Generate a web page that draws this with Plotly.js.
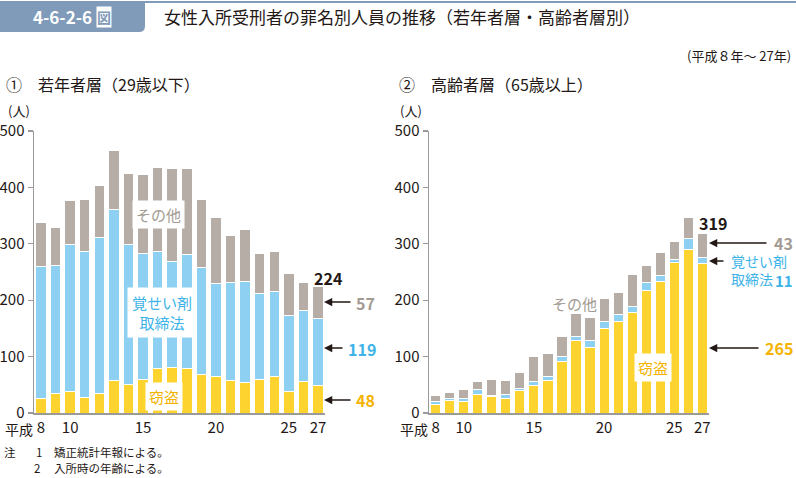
<!DOCTYPE html>
<html><head><meta charset="utf-8">
<script src="https://cdn.plot.ly/plotly-3.0.1.min.js"></script>
<style>html,body{margin:0;padding:0;background:#fff}</style>
</head><body><div id="chart" style="width:796px;height:478px"></div>
<script>
// 平成8年～27年
const years = [8,9,10,11,12,13,14,15,16,17,18,19,20,21,22,23,24,25,26,27];
// ① 若年者層（29歳以下）
const youngTheft = [25,34,39,28,35,58,51,59,79,80,79,69,65,57,54,60,64,38,56,48];
const youngStim  = [234,228,260,258,276,302,247,223,207,188,202,189,165,175,179,152,151,135,126,119];
const youngOther = [78,67,77,93,92,105,127,141,150,165,152,121,116,83,93,70,72,75,49,57];
// ② 高齢者層（65歳以上）
const elderTheft = [15,23,20,32,29,25,40,49,57,92,129,117,149,162,179,218,233,266,290,265];
const elderStim  = [5,2,5,9,2,7,4,6,7,8,6,11,13,13,9,13,10,7,19,11];
const elderOther = [11,12,16,14,29,25,28,45,42,35,41,42,41,39,57,31,41,31,37,43];
const tickVals = [8,10,15,20,25,27];
const tickText = ['8','10','15','20','25','27'];
const seriesNames = ['窃盗','覚せい剤取締法','その他'];

const W = 796, H = 478;
const px = x => x / W;
const py = y => 1 - y / H;
const FONT = '"Noto Sans CJK JP", "Noto Sans", sans-serif';
const C_OTHER = '#b6aea6', C_STIM = '#8dd0f2', C_THEFT = '#fdd330';
const T_OTHER = '#a39b93', T_STIM = '#3db3e8', T_THEFT = '#f3b300';
const DARK = '#231815';
const BOX = '#7f9bb9';

function bar(y, name, color, xa, ya) {
  return {type:'bar', x: years, y: y, name: name, xaxis: xa, yaxis: ya,
    marker:{color: color, line:{color:'#ffffff', width:1}}, hoverinfo:'skip'};
}
const data = [
  bar(youngTheft, seriesNames[0], C_THEFT, 'x', 'y'),
  bar(youngStim, seriesNames[1], C_STIM, 'x', 'y'),
  bar(youngOther, seriesNames[2], C_OTHER, 'x', 'y'),
  bar(elderTheft, seriesNames[0], C_THEFT, 'x2', 'y2'),
  bar(elderStim, seriesNames[1], C_STIM, 'x2', 'y2'),
  bar(elderOther, seriesNames[2], C_OTHER, 'x2', 'y2'),
];

const xax = (dom) => ({domain: dom, range:[7.52, 27.48], tickmode:'array', tickvals: tickVals, ticktext: tickText,
  showline:true, linecolor:'#9a9a9a', linewidth:1.5, ticks:'', showgrid:false, zeroline:false,
  tickfont:{family: FONT, size:15, color: DARK}, fixedrange:true});
const yax = (anchor) => ({domain:[py(413), py(131)], range:[0,500], dtick:100, anchor: anchor,
  showline:true, linecolor:'#9a9a9a', linewidth:1.5, ticks:'outside', ticklen:5, tickcolor:'#9a9a9a', tickwidth:1.2,
  showgrid:false, zeroline:false, tickfont:{family: FONT, size:15, color: DARK}, fixedrange:true});

const ann = [];
function A(x, y, text, o) {
  o = o || {};
  ann.push(Object.assign({xref:'paper', yref:'paper', x: px(x), y: py(y), text: text, showarrow:false,
    xanchor:'center', yanchor:'middle', font:{family: FONT, size:15, color: DARK}}, o));
}
function arrow(x, y, len) {
  ann.push({xref:'paper', yref:'paper', x: px(x), y: py(y), ax: len, ay: 0, text:'', showarrow:true,
    arrowhead:2, arrowsize:1.1, arrowwidth:1.5, arrowcolor: DARK, standoff:0});
}
// header
A(62, 17, '<b>4-6-2-6</b>', {font:{family: FONT, size:17, color:'#ffffff'}});
A(104, 17, '<b>図</b>', {font:{family: FONT, size:14, color: BOX}, bgcolor:'#ffffff', borderpad:0});
A(162, 17, '女性入所受刑者の罪名別人員の推移（若年者層・高齢者層別）', {xanchor:'left', font:{family: FONT, size:17, color: DARK}});
A(793, 56, '(平成８年～ 27年)', {xanchor:'right', font:{family: FONT, size:13, color: DARK}});
A(4, 84, '①　若年者層（29歳以下）', {xanchor:'left', font:{family: FONT, size:16, color: DARK}});
A(397, 84, '②　高齢者層（65歳以上）', {xanchor:'left', font:{family: FONT, size:16, color: DARK}});
A(19, 111, '(人)', {font:{family: FONT, size:13, color: DARK}});
A(411, 111, '(人)', {font:{family: FONT, size:13, color: DARK}});
A(35, 429, '平成', {xanchor:'right', font:{family: FONT, size:14, color: DARK}});
A(430, 429, '平成', {xanchor:'right', font:{family: FONT, size:14, color: DARK}});
// in-chart labels (left)
A(158, 214, 'その他', {font:{family: FONT, size:15, color: T_OTHER}, bgcolor:'#ffffff', borderpad:3});
A(162, 312, '覚せい剤<br>取締法', {font:{family: FONT, size:15, color: T_STIM}, bgcolor:'#ffffff', borderpad:4});
A(164, 396, '窃盗', {font:{family: FONT, size:15, color: T_THEFT}, bgcolor:'#ffffff', borderpad:3});
// right side labels (left chart)
A(328, 278, '<b>224</b>', {font:{family: FONT, size:16, color: DARK}});
arrow(324, 302, 28); A(365, 303, '<b>57</b>', {font:{family: FONT, size:16, color: T_OTHER}});
arrow(324, 348, 20); A(362, 349, '<b>119</b>', {font:{family: FONT, size:16, color: T_STIM}});
arrow(324, 400, 28); A(365, 400, '<b>48</b>', {font:{family: FONT, size:16, color: T_THEFT}});
// in-chart labels (right)
A(574, 303, 'その他', {font:{family: FONT, size:15, color: T_OTHER}});
A(653, 367, '窃盗', {font:{family: FONT, size:15, color: T_THEFT}, bgcolor:'#ffffff', borderpad:3});
// right side labels (right chart)
A(713, 223, '<b>319</b>', {font:{family: FONT, size:16, color: DARK}});
arrow(709, 243, 59); A(783, 243, '<b>43</b>', {font:{family: FONT, size:16, color: T_OTHER}});
arrow(709, 261, 16); A(729, 270, '覚せい剤<br>取締法', {xanchor:'left', align:'left', font:{family: FONT, size:14, color: T_STIM}});
A(795, 280, '<b>11</b>', {xanchor:'right', font:{family: FONT, size:15, color: T_STIM}});
arrow(709, 348, 51); A(779, 348, '<b>265</b>', {font:{family: FONT, size:16, color: T_THEFT}});
// notes
A(2, 452, '注', {xanchor:'left', font:{family: FONT, size:11.5, color: DARK}});
A(34, 452, '1', {xanchor:'left', font:{family: FONT, size:11.5, color: DARK}});
A(52, 452, '矯正統計年報による。', {xanchor:'left', font:{family: FONT, size:11.5, color: DARK}});
A(32, 468, '2', {xanchor:'left', font:{family: FONT, size:11.5, color: DARK}});
A(52, 468, '入所時の年齢による。', {xanchor:'left', font:{family: FONT, size:11.5, color: DARK}});

const shapes = [
  {type:'line', xref:'paper', yref:'paper', x0: px(140), x1: 1, y0: py(2), y1: py(2), line:{color: BOX, width:2}},
  {type:'path', xref:'paper', yref:'paper', fillcolor: BOX, line:{width:0},
   path: `M0,${py(1)} L${px(145)},${py(1)} L${px(145)},${py(26)} Q${px(145)},${py(32)} ${px(139)},${py(32)} L0,${py(32)} Z`},
];

const layout = {
  width: W, height: H, margin:{l:0, r:0, t:0, b:0}, paper_bgcolor:'#ffffff', plot_bgcolor:'rgba(0,0,0,0)',
  showlegend:false, barmode:'stack', bargap:0.28,
  xaxis: Object.assign(xax([px(34), px(325)]), {anchor:'y'}),
  yaxis: yax('x'),
  xaxis2: Object.assign(xax([px(429), px(709)]), {anchor:'y2'}),
  yaxis2: yax('x2'),
  annotations: ann, shapes: shapes,
  font:{family: FONT}
};
Plotly.newPlot('chart', data, layout, {displayModeBar:false, staticPlot:true});
</script></body></html>
